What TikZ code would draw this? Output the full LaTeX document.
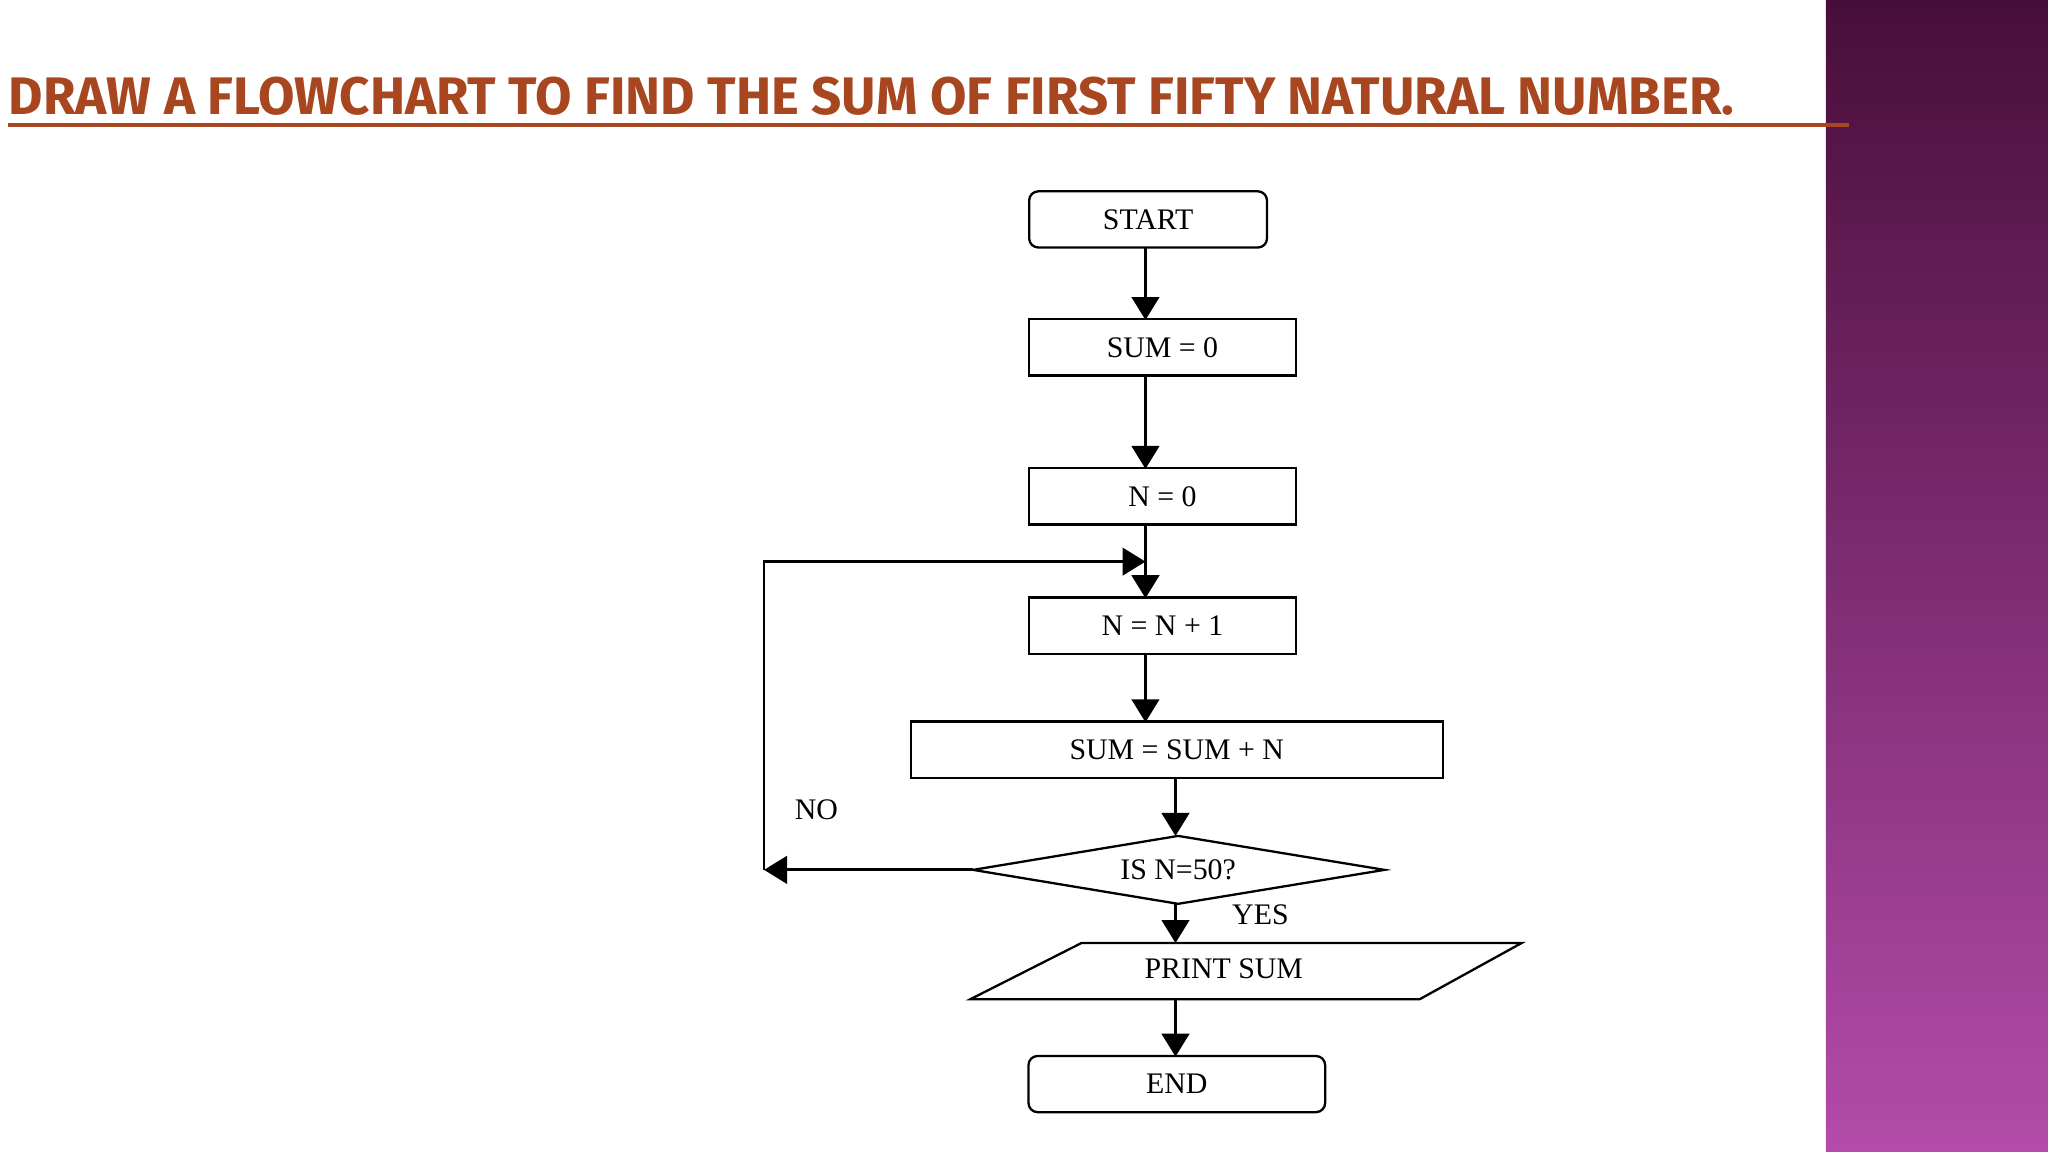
\documentclass[tikz,border=0pt]{standalone}
\usepackage{fontspec}
\newfontfamily\titlefont{Fira Sans}
\newfontfamily\boxfont{Liberation Serif}
\usetikzlibrary{arrows.meta,shapes.geometric}
\definecolor{titlec}{HTML}{A8461F}
\begin{document}
\begin{tikzpicture}[x=0.01cm,y=-0.01cm,
  box/.style={draw,line width=0.5pt,minimum height=0.43cm,font=\boxfont\fontsize{6.5}{7}\selectfont,inner sep=0pt},
  arr/.style={line width=0.6pt,-{Triangle[width=6pt,length=5pt]}},
  lbl/.style={font=\boxfont\fontsize{6.5}{7}\selectfont}]
\useasboundingbox (0,0) rectangle (1568,882);
\fill[white] (0,0) rectangle (1568,882);
\shade[top color={rgb,255:red,72;green,14;blue,58}, bottom color={rgb,255:red,180;green,75;blue,170}] (1398,0) rectangle (1568,882);
\node[anchor=base west,inner sep=0pt,text=titlec,font=\titlefont\bfseries\fontsize{11.5}{12}\selectfont] (title) at (6,88) {DRAW A FLOWCHART TO FIND THE SUM OF FIRST FIFTY NATURAL NUMBER.};
\draw[titlec,line width=0.9pt] (6,96) -- (1416,96);
\node[box,rounded corners=2pt,minimum width=1.82cm] (start) at (879,168) {START};
\node[box,minimum width=2.04cm] (s0) at (890,266) {SUM = 0};
\node[box,minimum width=2.04cm] (n0) at (890,380) {N = 0};
\node[box,minimum width=2.04cm] (n1) at (890,479) {N = N + 1};
\node[box,minimum width=4.07cm] (ss) at (901,574) {SUM = SUM + N};
\draw[line width=0.5pt] (745,666) -- (902,640) -- (1060,666) -- (902,692) -- cycle;
\node[lbl] (dia) at (902,666) {IS N=50?};
\coordinate (dl) at (745,666);
\draw[line width=0.5pt] (743,765) -- (828,722) -- (1165,722) -- (1087,765) -- cycle;
\node[lbl] (pr) at (937,742) {PRINT SUM};
\node[box,rounded corners=2pt,minimum width=2.27cm] (end) at (901,830) {END};
\coordinate (l1) at (585,666);
\coordinate (l2) at (585,430);
\coordinate (l3) at (877,430);
\draw[arr] (877,189) -- (877,245);
\draw[arr] (877,288) -- (877,359);
\draw[arr] (877,401) -- (877,458);
\draw[arr] (877,500) -- (877,553);
\draw[arr] (900,596) -- (900,640);
\draw[arr] (900,692) -- (900,722);
\draw[arr] (900,765) -- (900,809);
\draw[arr] (dl) -- (l1);
\draw[arr] (l1) -- (l2) -- (l3);
\node[lbl] (no) at (625,620) {NO};
\node[lbl] (yes) at (965,700) {YES};
\end{tikzpicture}
\end{document}
